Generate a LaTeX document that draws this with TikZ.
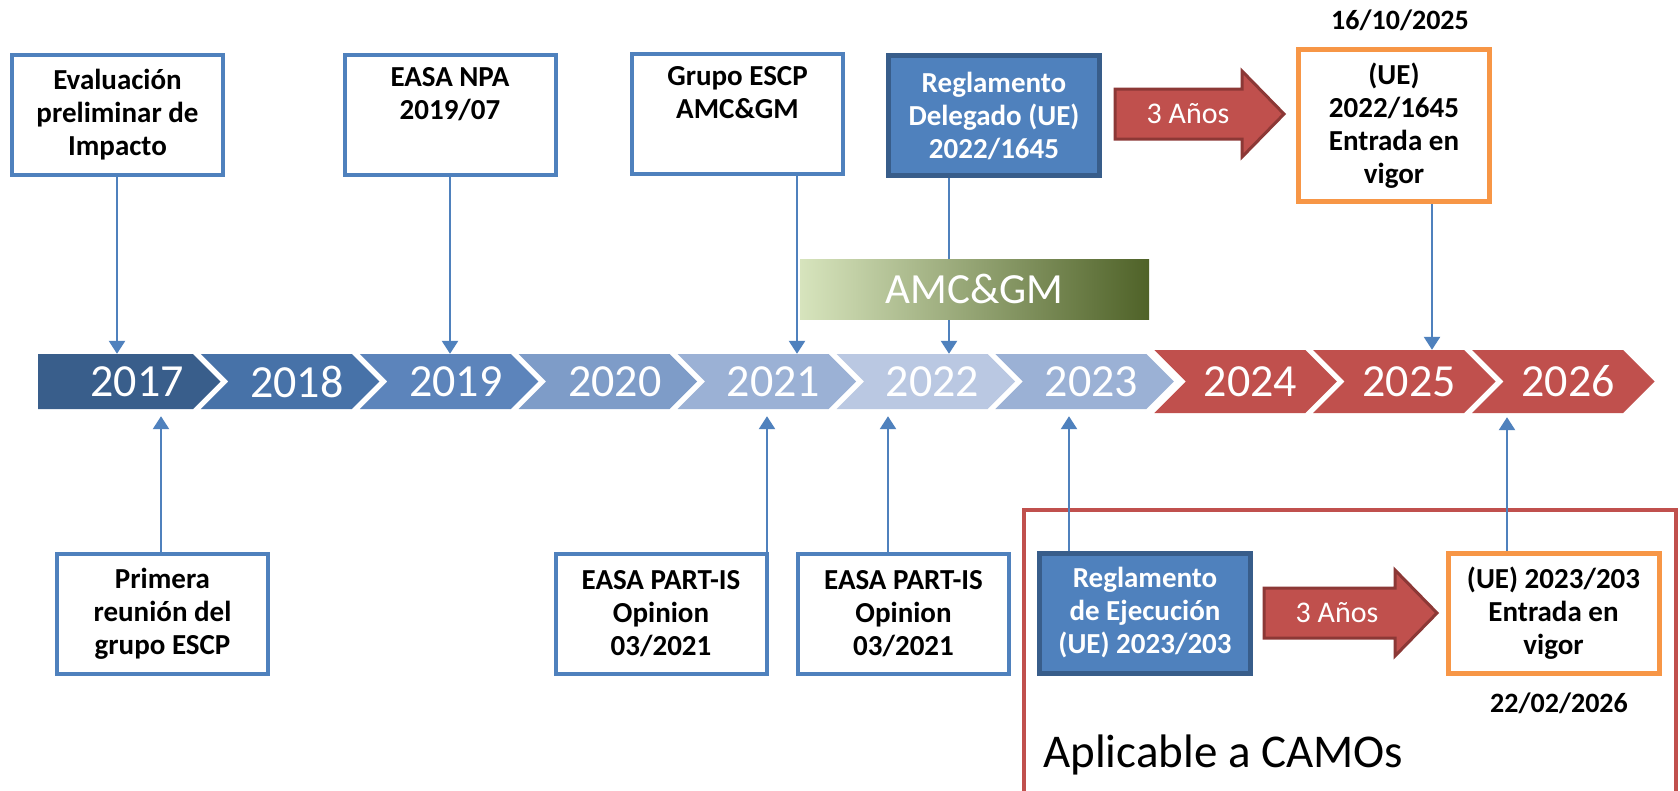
\documentclass[tikz,border=0pt]{standalone}
\usepackage{fontspec}
\setmainfont{Carlito}
\usetikzlibrary{arrows.meta}

\definecolor{boxblue}{HTML}{4F81BD}
\definecolor{regborder}{HTML}{385D8A}
\definecolor{vigorange}{HTML}{F79646}
\definecolor{redfill}{HTML}{C0504D}
\definecolor{redborder}{HTML}{8C3836}
\definecolor{yr17}{HTML}{395E8B}
\definecolor{yr18}{HTML}{4772A8}
\definecolor{yr19}{HTML}{5C84BB}
\definecolor{yr20}{HTML}{7E9CC8}
\definecolor{yr21}{HTML}{9BB1D5}
\definecolor{yr22}{HTML}{BAC8E2}
\definecolor{amcleft}{HTML}{D7E4BD}
\definecolor{amcright}{HTML}{4F6228}

\tikzset{
  tbox/.style={draw=boxblue, line width=4pt, fill=white, minimum width=211pt, minimum height=120pt,
               inner sep=0pt, align=center, font=\fontsize{29}{33}\selectfont\bfseries},
  regbox/.style={tbox, draw=regborder, fill=boxblue, text=white, line width=5pt},
  vigbox/.style={tbox, draw=vigorange, line width=5pt},
  conn/.style={draw=boxblue, line width=2.5pt, -{Triangle[width=16pt,length=13pt]}},
  years/.style={text=white, inner sep=0pt, font=\fontsize{46}{54}\selectfont},
  anos/.style={text=white, inner sep=0pt, font=\fontsize{30}{34}\selectfont},
  fecha/.style={inner sep=0pt, font=\fontsize{28}{33}\selectfont\bfseries},
  amcbar/.style={shading=axis, left color=amcleft, right color=amcright, minimum width=349pt,
                 minimum height=60pt, inner sep=0pt, text=white, font=\fontsize{43}{50}\selectfont},
  camoframe/.style={draw=redfill, line width=4pt}
}

\begin{document}
\begin{tikzpicture}[x=1pt,y=-1pt]
\useasboundingbox (0,0) rectangle (1680,790);
\fill[white] (0,0) rectangle (1680,790);

% marco CAMOs
\draw[camoframe] (1024,510) rectangle (1676,800);
\node[anchor=west, inner sep=0pt, font=\fontsize{47}{56}\selectfont] (camos) at (1043,755) {Aplicable a CAMOs};

% linea de tiempo
\fill[yr17] (38,354) -- (193,354) -- (220.5,381.5) -- (193,409) -- (38,409) -- cycle;
\node[years, minimum height=55pt] (y2017) at (137,381.5) {2017};
\foreach \yr/\fc/\h [count=\i] in {2018/yr18/27.5, 2019/yr19/27.5, 2020/yr20/27.5, 2021/yr21/27.5,
     2022/yr22/27.5, 2023/yr21/27.5, 2024/redfill/31.5, 2025/redfill/31.5, 2026/redfill/31.5} {
  \pgfmathsetmacro{\xl}{42+158.9*\i}
  \fill[\fc] ({\xl},{381.5-\h}) -- ++(151,0) -- ++(\h,\h) -- ++(-\h,\h) -- ++(-151,0) -- ++(\h,-\h) -- cycle;
  \node[years, minimum height=2*\h] (y\yr) at ({\xl+96},381.5) {\yr};
}

% cajas superiores
\node[tbox] (evalu) at (117.5,115) {Evaluación\\preliminar de\\Impacto};
\node[tbox] (npa) at (450,115) {EASA NPA\\2019/07\\\strut};
\node[tbox] (grupo) at (737.5,114) {Grupo ESCP\\AMC\&GM\\\strut};
\node[regbox] (regdel) at (994,115.5) {Reglamento\\Delegado (UE)\\2022/1645};
\node[vigbox, minimum width=191pt, minimum height=152pt] (vigor1) at (1394,125.5) {(UE)\\2022/1645\\Entrada en\\vigor};
\node[fecha] (fecha1) at (1400,20) {16/10/2025};

% cajas inferiores
\node[tbox] (prima) at (162.5,613.5) {Primera\\reunión del\\grupo ESCP};
\node[tbox] (opin1) at (661,613.5) {EASA PART-IS\\Opinion\\03/2021};
\node[tbox] (opin2) at (903.5,613.5) {EASA PART-IS\\Opinion\\03/2021};
\node[regbox] (regej) at (1145,613) {Reglamento\\de Ejecución\\(UE) 2023/203};
\node[vigbox] (vigor2) at (1553.5,613.5) {(UE) 2023/203\\Entrada en\\vigor};
\node[fecha] (fecha2) at (1559,703) {22/02/2026};

% flechas 3 anos
\foreach \ax/\ay/\al [count=\k] in {1115/114/127, 1264/613/131} {
  \filldraw[fill=redfill, draw=redborder, line width=3pt] ({\ax},{\ay-25}) -- ++(\al,0) -- ++(0,-18)
     -- ++(42,43) -- ++(-42,43) -- ++(0,-18) -- ++(-\al,0) -- cycle;
  \node[anos] (anos\k) at ({\ax+73},\ay) {3 Años};
}

% conectores
\draw[conn] (evalu.south -| 117,0) -- (y2017.north -| 117,0);
\draw[conn] (npa.south -| 450,0) -- (y2019.north -| 450,0);
\draw[conn] (grupo.south -| 797,0) -- (y2021.north -| 797,0);
\draw[conn] (regdel.south -| 949,0) -- (y2022.north -| 949,0);
\draw[conn] (vigor1.south -| 1432,0) -- (y2025.north -| 1432,0);
\draw[conn, shorten >=7pt] (prima.north -| 161,0) -- (y2017.south -| 161,0);
\draw[conn, shorten >=7pt] (opin1.north -| 767,0) -- (y2021.south -| 767,0);
\draw[conn, shorten >=7pt] (opin2.north -| 888,0) -- (y2022.south -| 888,0);
\draw[conn, shorten >=7pt] (regej.north -| 1069,0) -- (y2023.south -| 1069,0);
\draw[conn, shorten >=4pt] (vigor2.north -| 1507,0) -- (y2026.south -| 1507,0);

% barra AMC&GM
\node[amcbar] (amc) at (974.5,289) {AMC\&GM};
\end{tikzpicture}
\end{document}
